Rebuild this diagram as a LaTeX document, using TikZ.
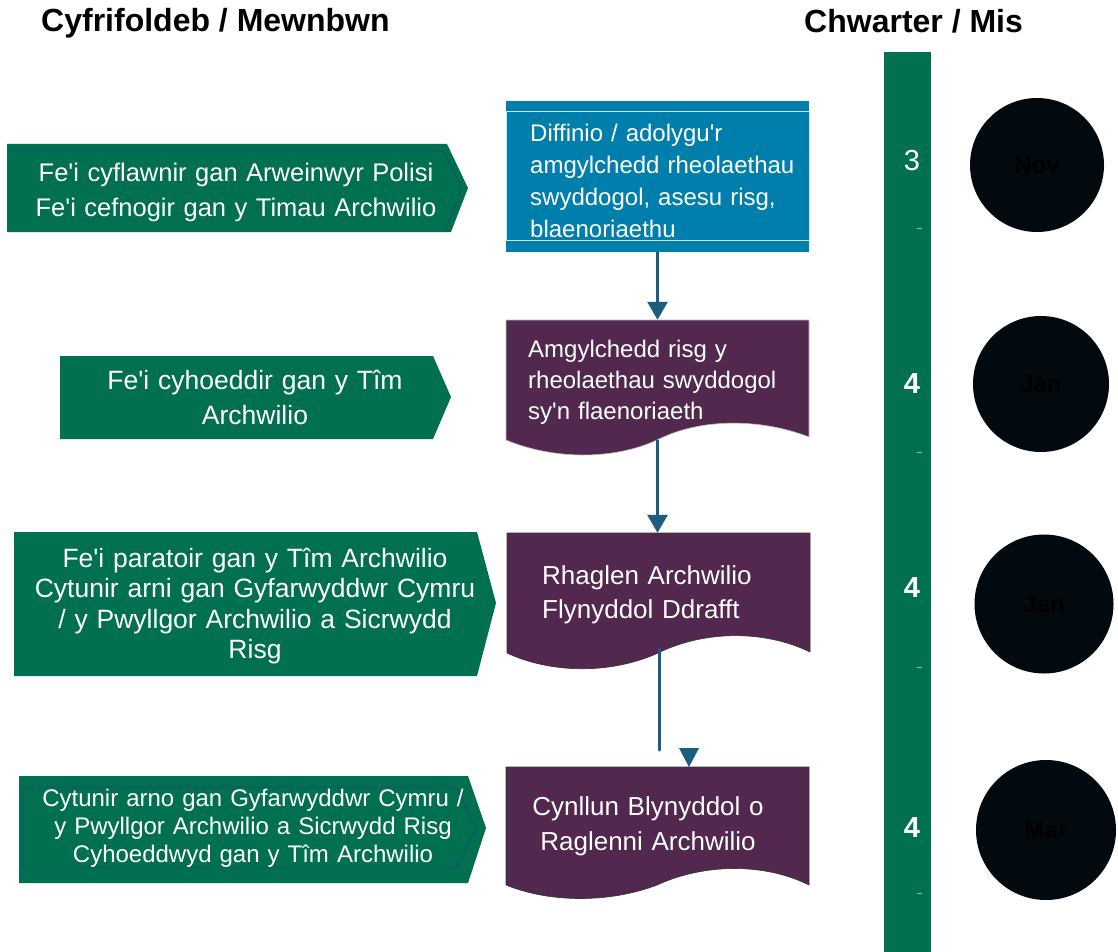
\documentclass[tikz,border=0pt]{standalone}
\usepackage{fontspec}
\setmainfont{Liberation Sans}
\usetikzlibrary{arrows.meta}
\definecolor{cgreen}{RGB}{0,112,80}
\definecolor{cblue}{RGB}{0,126,172}
\definecolor{cpurple}{RGB}{82,40,79}
\definecolor{carrow}{RGB}{27,94,127}
\definecolor{cdark}{RGB}{3,10,15}
\definecolor{cline}{RGB}{30,70,120}
\definecolor{cmark}{RGB}{150,190,170}
\newcommand\myfs[2]{\fontsize{#1}{#2}\selectfont}
\newcommand\myq{\textquotesingle}
\begin{document}
\begin{tikzpicture}[x=1pt,y=-1pt,
  wtxt/.style={text=white, inner sep=0pt, anchor=base},
  ctxt/.style={wtxt, align=center, text width=#1},
  ltxt/.style={text=white, inner sep=0pt, anchor=base west, align=left, text width=#1},
  docanchor/.style={inner sep=0pt, minimum width=303pt, minimum height=#1},
  conn/.style={draw=carrow, line width=3pt, -{Triangle[width=20pt,length=18pt]}},
  connline/.style={draw=carrow, line width=3pt, line cap=round},
  moon/.style={circle, fill=cdark, inner sep=0pt, minimum size=#1, text=black, font=\myfs{24}{24}\bfseries},
  qnum/.style={text=white, inner sep=0pt}
]
\useasboundingbox[fill=white] (0,0) rectangle (1118,952);

% titles
\node[inner sep=0pt, anchor=base west, font=\myfs{32}{36}\bfseries] (t1) at (41,32) {Cyfrifoldeb / Mewnbwn};
\node[inner sep=0pt, anchor=base west, font=\myfs{32}{36}\bfseries] (t2) at (804,33) {Chwarter / Mis};

% green arrow shapes
\fill[cgreen] (7,144) -- (447,144) -- (468,188) -- (451,232) -- (7,232) -- cycle;
\draw[cline, line width=0.6pt] (7,151) -- (443,151) -- (462,188) -- (445,232);
\node[ctxt=430pt, font=\myfs{25.5}{35}] (g1) at (236,182) {Fe\myq i cyflawnir gan Arweinwyr Polisi\\Fe\myq i cefnogir gan y Timau Archwilio};

\fill[cgreen] (60,356) -- (433,356) -- (451,397) -- (433,439) -- (60,439) -- cycle;
\node[ctxt=380pt, font=\myfs{26.5}{35}] (g2) at (255,389) {Fe\myq i cyhoeddir gan y Tîm\\Archwilio};

\fill[cgreen] (14,532) -- (477,532) -- (496,603) -- (477,676) -- (14,676) -- cycle;
\node[ctxt=460pt, font=\myfs{26.5}{30.5}] (g3) at (255,567) {Fe\myq i paratoir gan y Tîm Archwilio\\Cytunir arni gan Gyfarwyddwr Cymru\\/ y Pwyllgor Archwilio a Sicrwydd\\Risg};

\fill[cgreen] (19,776) -- (468,776) -- (486,828) -- (468,883) -- (19,883) -- cycle;
\draw[cline, line width=0.6pt] (23,787) -- (456,787) -- (476,828) -- (458,867) -- (23,867) -- cycle;
\node[ctxt=440pt, font=\myfs{24}{28}] (g4) at (253,806) {Cytunir arno gan Gyfarwyddwr Cymru /\\y Pwyllgor Archwilio a Sicrwydd Risg\\Cyhoeddwyd gan y Tîm Archwilio};

% box 1 (blue)
\node[fill=cblue, inner sep=0pt, minimum width=303pt, minimum height=151pt] (b1) at (657.5,176.5) {};
\draw[white!80!cblue, line width=0.8pt] (506,111) rectangle (809,240);
\node[ltxt=270pt, font=\myfs{24}{32}] (b1t) at (530,142) {Diffinio / adolygu\myq r\\amgylchedd rheolaethau\\swyddogol, asesu risg,\\blaenoriaethu};

% box 2 (document)
\node[docanchor=120pt] (b2) at (657.5,380) {};
\filldraw[fill=cpurple, draw=white!75!black, line width=0.6pt] (506,320) -- (809,320) -- (809,437)
  .. controls (760,418) and (700,418) .. (657,440)
  .. controls (614,460) and (554,460) .. (506,440) -- cycle;
\node[ltxt=275pt, font=\myfs{24}{31}] (b2t) at (528,357) {Amgylchedd risg y\\rheolaethau swyddogol\\sy\myq n flaenoriaeth};

% box 3 (document)
\node[docanchor=120pt] (b3) at (658.5,593) {};
\filldraw[fill=cpurple, draw=black!80, line width=0.6pt] (507,533) -- (810,533) -- (810,652)
  .. controls (765,630) and (705,630) .. (658,653)
  .. controls (612,674) and (552,674) .. (507,653) -- cycle;
\node[ltxt=260pt, font=\myfs{26}{34}] (b3t) at (542,584) {Rhaglen Archwilio\\Flynyddol Ddrafft};

% box 4 (document)
\node[docanchor=118pt] (b4) at (657.5,826) {};
\filldraw[fill=cpurple, draw=black!80, line width=0.6pt] (506,767) -- (809,767) -- (809,885)
  .. controls (765,863) and (705,863) .. (657,885)
  .. controls (610,903) and (550,903) .. (506,885) -- cycle;
\node[ctxt=290pt, font=\myfs{26}{35}] (b4t) at (648,815) {Cynllun Blynyddol o\\Raglenni Archwilio};

% connectors
\draw[conn] (b1.south) -- (b2.north);
\draw[conn] (b2.south) -- (b2.south |- b3.north);
\coordinate (brk) at (659,750);
\draw[connline] (b3.south) ++(0.5,-4) -- (brk);
\coordinate (ah) at (689,767);
\fill[carrow] (ah) -- ++(-10,-19) -- ++(20,0) -- cycle;

% quarter bar
\fill[cgreen] (884,52) rectangle (931,952);
\node[qnum, font=\myfs{29}{29}] (q1) at (912,161) {3};
\node[qnum, font=\myfs{29}{29}\bfseries] (q2) at (912,384) {4};
\node[qnum, font=\myfs{29}{29}\bfseries] (q3) at (912,588) {4};
\node[qnum, font=\myfs{29}{29}\bfseries] (q4) at (912,828) {4};
\foreach \yy in {228,452,667,893} \draw[cmark, line width=1pt] (917,\yy) -- (922,\yy);

% months
\node[moon=134pt] (m1) at (1037,165) {Nov};
\node[moon=136pt] (m2) at (1041,384) {Jan};
\node[moon=139pt] (m3) at (1044,604) {Jan};
\node[moon=140pt] (m4) at (1046,830) {Mar};
\end{tikzpicture}
\end{document}
